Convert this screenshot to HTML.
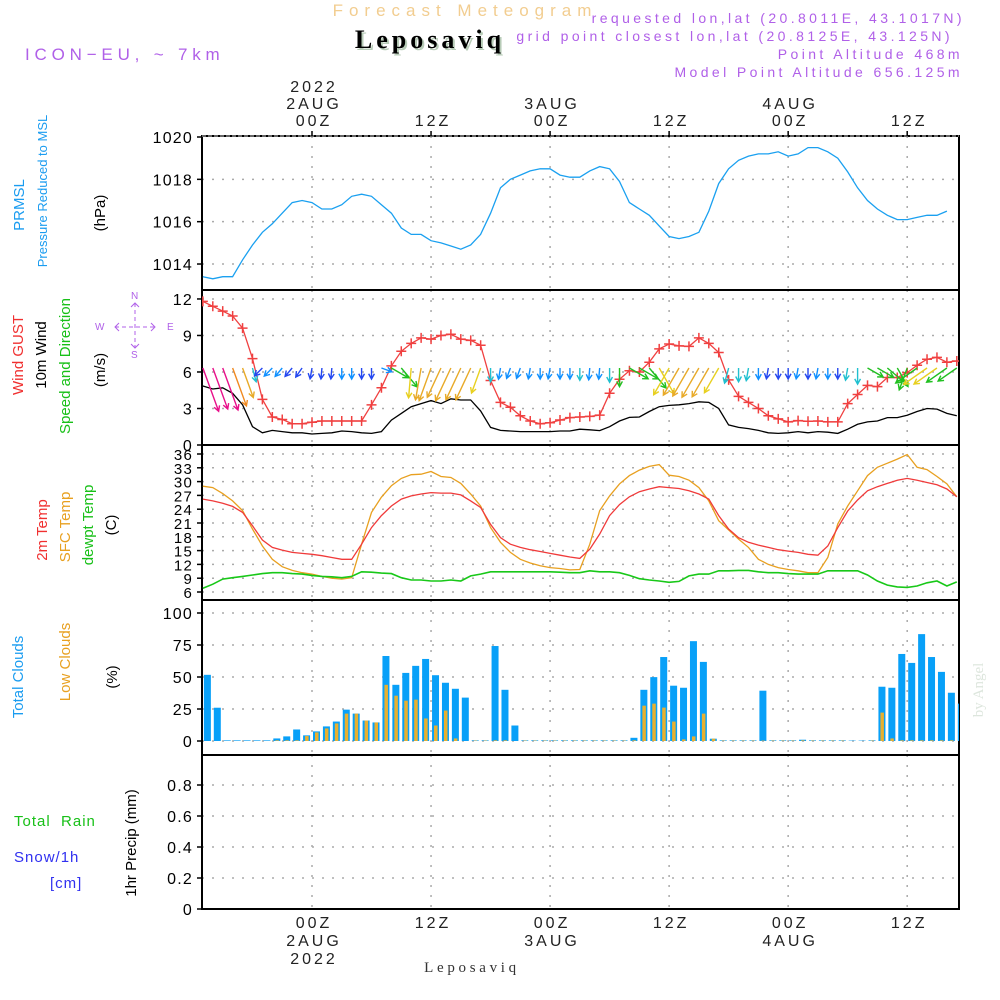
<!DOCTYPE html>
<html><head><meta charset="utf-8"><style>
html,body{margin:0;padding:0;background:#fff;}
svg{display:block;font-family:"Liberation Sans",sans-serif;}
</style></head><body>
<svg id="chart" width="1000" height="1000" viewBox="0 0 1000 1000" xmlns="http://www.w3.org/2000/svg">
<g>
<text x="465" y="16" text-anchor="middle" font-size="17" fill="#f2cd90" letter-spacing="6">Forecast Meteogram</text>
<text x="432" y="50" text-anchor="middle" font-size="26" font-weight="bold" font-family="Liberation Serif,serif" fill="#b8ccb8" letter-spacing="4">Leposaviq</text>
<text x="430" y="48" text-anchor="middle" font-size="26" font-weight="bold" font-family="Liberation Serif,serif" fill="#000" letter-spacing="4">Leposaviq</text>
<text x="25" y="60" font-size="17" fill="#b060e8" letter-spacing="4.8">ICON−EU, ~ 7km</text>
<text x="965" y="23" text-anchor="end" font-size="14" fill="#b060e8" letter-spacing="3.4">requested lon,lat (20.8011E, 43.1017N)</text>
<text x="953" y="41" text-anchor="end" font-size="14" fill="#b060e8" letter-spacing="3.4">grid point closest lon,lat (20.8125E, 43.125N)</text>
<text x="963" y="59" text-anchor="end" font-size="14" fill="#b060e8" letter-spacing="3.4">Point Altitude 468m</text>
<text x="963" y="77" text-anchor="end" font-size="14" fill="#b060e8" letter-spacing="3.4">Model Point Altitude 656.125m</text>
<text x="983" y="690" text-anchor="middle" font-size="15" font-family="Liberation Serif,serif" fill="#dde6dd" transform="rotate(-90 983 690)">by Angel</text>
<text x="472" y="972" text-anchor="middle" font-size="15" font-family="Liberation Serif,serif" fill="#333" letter-spacing="3.7">Leposaviq</text>
</g>
<g font-size="15">
<text transform="translate(24,205) rotate(-90)" text-anchor="middle" fill="#1a9cf0">PRMSL</text>
<text transform="translate(47,191) rotate(-90)" text-anchor="middle" fill="#1a9cf0" font-size="13">Pressure Reduced to MSL</text>
<text transform="translate(105,213) rotate(-90)" text-anchor="middle" fill="#000">(hPa)</text>
<text transform="translate(23,355) rotate(-90)" text-anchor="middle" fill="#f03030">Wind GUST</text>
<text transform="translate(46,355) rotate(-90)" text-anchor="middle" fill="#000">10m Wind</text>
<text transform="translate(70,366) rotate(-90)" text-anchor="middle" fill="#18c018">Speed and Direction</text>
<text transform="translate(105,370) rotate(-90)" text-anchor="middle" fill="#000">(m/s)</text>
<text transform="translate(47,530) rotate(-90)" text-anchor="middle" fill="#f03030">2m Temp</text>
<text transform="translate(70,527) rotate(-90)" text-anchor="middle" fill="#e8a020">SFC Temp</text>
<text transform="translate(93,525) rotate(-90)" text-anchor="middle" fill="#18c018">dewpt Temp</text>
<text transform="translate(116,525) rotate(-90)" text-anchor="middle" fill="#000">(C)</text>
<text transform="translate(23,677) rotate(-90)" text-anchor="middle" fill="#1a9cf0">Total Clouds</text>
<text transform="translate(70,662) rotate(-90)" text-anchor="middle" fill="#e8a020">Low Clouds</text>
<text transform="translate(117,677) rotate(-90)" text-anchor="middle" fill="#000">(%)</text>
<text x="14" y="826" fill="#18c018" letter-spacing="1">Total&#160;&#160;Rain</text>
<text x="14" y="862" fill="#3030f0" letter-spacing="1">Snow/1h</text>
<text x="50" y="888" fill="#3030f0" letter-spacing="1">[cm]</text>
<text transform="translate(136,843) rotate(-90)" text-anchor="middle" fill="#000">1hr Precip (mm)</text>
</g>
<g fill="none" stroke="#b060e8" font-size="10">
<text x="95" y="330" fill="#b060e8" stroke="none">W</text>
<text x="167" y="330" fill="#b060e8" stroke="none">E</text>
<text x="131" y="299" fill="#b060e8" stroke="none">N</text>
<text x="131" y="358" fill="#b060e8" stroke="none">S</text>
<line x1="115" y1="327" x2="155" y2="327" stroke-dasharray="4,3"/>
<line x1="135" y1="303" x2="135" y2="348" stroke-dasharray="4,3"/>
<path d="M119,323L115,327L119,331M151,323L155,327L151,331M131,307L135,303L139,307M131,344L135,348L139,344"/>
</g>
<g id="plots"></g>
</svg>
<script>
// ---------- data (hourly, hour 0 = 00Z 2AUG) ----------
const startHour = -11;
const pressure = [1013.4,1013.3,1013.4,1013.4,1014.2,1014.9,1015.5,1015.9,1016.4,1016.9,1017.0,1016.9,1016.6,1016.6,1016.8,1017.2,1017.3,1017.2,1016.8,1016.4,1015.7,1015.4,1015.4,1015.1,1015.0,1014.85,1014.7,1014.9,1015.4,1016.4,1017.6,1018.0,1018.2,1018.4,1018.5,1018.5,1018.2,1018.1,1018.1,1018.4,1018.6,1018.5,1017.9,1016.9,1016.6,1016.3,1015.8,1015.3,1015.2,1015.3,1015.5,1016.5,1017.8,1018.5,1018.9,1019.1,1019.2,1019.2,1019.3,1019.1,1019.2,1019.5,1019.5,1019.3,1019.0,1018.35,1017.6,1017.0,1016.6,1016.3,1016.1,1016.1,1016.2,1016.3,1016.3,1016.5];
const windGust = [11.8,11.4,11.0,10.6,9.6,7.1,3.75,2.3,2.1,1.75,1.75,1.87,1.97,1.97,1.97,1.97,1.97,3.3,4.7,6.5,7.7,8.35,8.8,8.7,9.0,9.1,8.7,8.6,8.2,5.3,3.5,3.1,2.4,1.97,1.75,1.83,2.05,2.25,2.3,2.35,2.45,4.25,5.4,6.1,6.0,6.8,7.9,8.3,8.15,8.1,8.8,8.35,7.6,5.35,4.0,3.5,3.0,2.4,2.15,1.9,2.0,1.95,1.97,1.9,1.9,3.4,4.15,4.9,4.8,5.55,5.55,5.95,6.55,7.05,7.2,6.8,6.9];
const wind10m = [4.85,4.6,4.7,4.25,3.3,1.5,1.0,1.2,1.1,1.0,1.0,0.9,0.95,1.0,1.15,1.1,1.0,0.95,1.1,2.05,2.6,3.15,3.4,3.65,3.4,3.8,3.7,3.7,2.8,1.45,1.2,1.15,1.1,1.1,1.1,1.1,1.15,1.15,1.3,1.25,1.18,1.5,1.97,2.27,2.3,2.75,3.15,3.25,3.3,3.4,3.55,3.5,3.0,1.65,1.45,1.35,1.2,1.0,0.95,1.0,1.1,1.0,1.1,1.05,0.95,1.3,1.7,1.9,1.97,2.25,2.25,2.45,2.75,3.0,2.95,2.6,2.4];
const windDir = [340,340,340,340,340,345,45,45,40,40,35,10,5,5,0,0,0,0,290,300,320,5,10,20,25,25,25,25,20,0,10,20,20,10,0,10,0,0,0,5,5,0,0,300,300,320,330,30,30,30,30,30,30,15,0,10,0,10,0,0,10,0,10,0,0,10,0,300,300,310,330,20,55,55,55,55,55];
const temp2m = [26.2,25.8,25.3,24.6,23.3,20.4,17.3,15.7,15.1,14.6,14.4,14.2,13.9,13.5,13.1,13.1,16.4,20.0,22.6,24.7,26.2,26.9,27.3,27.6,27.5,27.5,27.1,25.8,24.4,20.7,17.8,16.4,15.7,15.2,14.8,14.4,14.0,13.6,13.3,15.3,18.6,22.6,25.0,26.7,27.8,28.4,28.9,28.7,28.5,28.0,27.3,26.2,22.6,19.7,17.8,16.8,16.2,15.7,15.2,14.9,14.6,14.2,14.0,16.0,20.0,23.6,26.0,28.0,28.9,29.6,30.3,30.7,30.3,29.8,29.3,28.4,26.7];
const tempSfc = [29.0,28.7,27.4,25.8,23.7,19.7,16.0,13.1,11.5,10.7,10.2,9.9,9.4,9.0,8.8,9.1,16.4,23.3,26.6,29.1,30.7,31.5,31.6,32.2,31.1,30.9,29.6,27.3,24.7,20.0,16.8,14.6,13.1,12.3,11.7,11.3,11.1,10.8,10.9,16.4,23.7,26.9,29.5,31.3,32.5,33.3,33.7,31.4,31.1,30.3,28.7,25.8,21.5,19.5,17.5,15.7,13.1,12.0,11.3,10.9,10.6,10.2,10.2,13.5,20.8,24.7,28.0,31.3,33.1,34.0,34.9,35.9,33.1,32.6,31.1,29.5,26.7];
const dewpt = [6.8,7.7,8.8,9.1,9.4,9.7,10.0,10.2,10.2,10.0,9.9,9.6,9.4,9.3,9.1,9.4,10.4,10.3,10.1,10.0,9.1,8.6,8.6,8.4,8.4,8.6,8.4,9.5,9.9,10.4,10.4,10.4,10.4,10.4,10.4,10.4,10.3,10.2,10.2,10.6,10.4,10.4,10.2,9.6,8.9,8.6,8.4,8.1,8.3,9.5,9.9,9.9,10.6,10.6,10.7,10.7,10.4,10.2,10.2,10.0,9.9,9.9,9.9,10.6,10.6,10.6,10.6,9.7,8.4,7.5,7.1,7.0,7.3,8.0,8.4,7.3,8.2];
const cloudStartHour = -12;
const totalClouds = [50,51.7,26,0.5,0.5,0.5,0.5,0.5,2,3.6,9,4.4,7.5,11.4,15.2,24.5,21.4,16,14.5,66.4,43.9,53.2,58.7,64.1,51.4,45.5,40.8,33.9,0.5,0.5,74.2,40,12.1,0.5,0.5,0.5,0.5,0.5,0.5,0.5,0.5,0.5,0.5,0.5,2.5,40,49.9,65.6,43.2,41.6,78,61.8,1.8,0.5,0.5,0.5,0.5,39.3,0.5,0.5,0.5,1,0.5,0.5,0.5,0.5,0.3,0.3,0.5,42.4,41.6,68,61,83.5,65.6,54,37.7,29.2];
const lowClouds = [1,0,0,0,0,0,0,0,0.5,0.5,0.5,3.9,6.7,9.8,13.7,21.4,21.4,16,14.5,43.9,35.4,31.5,32.3,17.6,12.1,23.8,2,0,0.3,0.3,0.5,0.5,0,0.3,0.3,0.3,0.3,0.3,0.3,0.3,0.3,0.3,0.3,0.3,0.5,27.6,29.2,26.1,15.2,1.3,3.6,21.4,1.8,0.3,0.3,0.3,0.3,0.3,0.3,0.3,0.3,0.5,0.3,0.3,0.3,0.3,0,0,0.3,22.2,2,0.5,0.5,0.5,0.5,0.5,0.5,0.5];
const precip = [];
const pressTicks = [1014,1016,1018,1020];
const windTicks = [0,3,6,9,12];
const tempTicks = [6,9,12,15,18,21,24,27,30,33,36];
const cloudTicks = [0,25,50,75,100];
const precipTicks = [0,0.2,0.4,0.6,0.8];
const timeTickHours = [0,12,24,36,48,60];
const topTimeLabels = [["2022","2AUG","00Z"],["","","12Z"],["","3AUG","00Z"],["","","12Z"],["","4AUG","00Z"],["","","12Z"]];
const bottomTimeLabels = [["00Z","2AUG","2022"],["12Z","",""],["00Z","3AUG",""],["12Z","",""],["00Z","4AUG",""],["12Z","",""]];

// ---------- scales ----------
const X0 = 202, X1 = 959;
const xH = h => 312 + 9.92 * h;
const yP = p => 137 + (1020 - p) * 21.17;
const yW = v => 445 - v * 12.17;
const yT = t => 592 - (t - 6) * 4.6;
const yC = c => 741 - c * 1.28;
const yR = r => 909 - r * 155;
const panels = [
  {top:136,bot:290,scale:yP,ticks:pressTicks,name:'pressure'},
  {top:290,bot:445,scale:yW,ticks:windTicks,name:'wind'},
  {top:445,bot:600,scale:yT,ticks:tempTicks,name:'temperature'},
  {top:600,bot:755,scale:yC,ticks:cloudTicks,name:'clouds'},
  {top:755,bot:909,scale:yR,ticks:precipTicks,name:'precip'}
];
const NS = 'http://www.w3.org/2000/svg';
const root = document.getElementById('plots');
function mk(tag, attrs, parent){
  const e = document.createElementNS(NS, tag);
  for (const k in attrs) e.setAttribute(k, attrs[k]);
  (parent || root).appendChild(e);
  return e;
}
const defs = mk('defs', {});
const cp = mk('clipPath', {id:'clip'}, defs);
mk('rect', {x:X0, y:136, width:X1-X0, height:773}, cp);

panels.forEach(p => {
  const g = mk('g', {});
  
  
  p.ticks.forEach(t => {
    const y = p.scale(t);
    if (y > p.top + 3 && y < p.bot - 3) {
      const gl = mk('line', {x1:X0, x2:X1, y1:y, y2:y, stroke:'#aaa', 'stroke-width':1.5, 'stroke-dasharray':'2,8'}, g);
      
      
    }
    mk('line', {x1:X0-5, x2:X0, y1:y, y2:y, stroke:'#000', 'stroke-width':1.5}, g);
    const lbl = mk('text', {x:X0-9, y:y+6, 'text-anchor':'end', 'font-size': p.name==='temperature'?15:16, fill:'#000', 'letter-spacing':1.2}, g);
    lbl.textContent = String(t);
    
    
  });
  timeTickHours.forEach(h => {
    const vl = mk('line', {x1:xH(h), x2:xH(h), y1:p.top, y2:p.bot, stroke:'#aaa', 'stroke-width':1.5, 'stroke-dasharray':'2,8'}, g);
    
    
  });
  const fr = mk('rect', {x:X0, y:p.top, width:X1-X0, height:p.bot-p.top, fill:'none', stroke:'#000', 'stroke-width':2}, g);
  
  
});
mk('line', {x1:X0, x2:X1, y1:136, y2:136, stroke:'#666', 'stroke-width':2, 'stroke-dasharray':'4,2'});

timeTickHours.forEach((h, i) => {
  const x = xH(h) + 2;
  mk('line', {x1:xH(h), x2:xH(h), y1:131, y2:136, stroke:'#000', 'stroke-width':1.5});
  topTimeLabels[i].forEach((s, j) => {
    if (!s) return;
    const t = mk('text', {x:x, y:92 + j*17, 'text-anchor':'middle', 'font-size':16, fill:'#222', 'letter-spacing':3});
    t.textContent = s;
    
    
  });
  bottomTimeLabels[i].forEach((s, j) => {
    if (!s) return;
    const t = mk('text', {x:x, y:928 + j*18, 'text-anchor':'middle', 'font-size':16, fill:'#222', 'letter-spacing':3});
    t.textContent = s;
    
    
  });
});

const series = mk('g', {'clip-path':'url(#clip)'});
function line(data, start, yf, color, name, w){
  const pts = data.map((v, i) => xH(start + i).toFixed(1) + ',' + yf(v).toFixed(1)).join(' ');
  const l = mk('polyline', {points:pts, fill:'none', stroke:color, 'stroke-width':w||1.3}, series);
  
  
}
line(pressure, startHour, yP, '#1aa0f0', 'pressure-line');
const cg = mk('g', {}, series);


totalClouds.forEach((v, i) => {
  const x = xH(cloudStartHour + i) + 4.5;
  const b = mk('rect', {x:x-3.5, y:yC(v), width:7, height:yC(0)-yC(v), fill:'#08a0f8'}, cg);
  
  
  const lv = lowClouds[i];
  const lb = mk('rect', {x:x-1.5, y:yC(lv), width:3.5, height:yC(0)-yC(lv), fill:'#e8b030'}, cg);
  
  
});
line(tempSfc, startHour, yT, '#e8a020', 'sfc-temp-line');
line(temp2m, startHour, yT, '#f03a3a', 'temp-2m-line');
line(dewpt, startHour, yT, '#18c818', 'dewpt-line', 1.6);
line(wind10m, startHour, yW, '#000', 'wind-10m-line');
line(windGust, startHour, yW, '#f04040', 'wind-gust-line');
const gg = mk('g', {}, series);


windGust.forEach((v, i) => {
  const x = xH(startHour + i), y = yW(v);
  const m = mk('path', {d:`M${x-5},${y}H${x+5}M${x},${y-5}V${y+5}`, stroke:'#f04040', 'stroke-width':1.5}, gg);
  
  
});
function windColor(s){
  if (s >= 4.4) return '#e8108a';
  if (s >= 3.9) return '#f08a20';
  if (s >= 3.3) return '#e8aa28';
  if (s >= 2.8) return '#e8d020';
  if (s >= 1.8) return '#20c020';
  if (s >= 1.3) return '#20c0d0';
  if (s >= 1.05) return '#1090ff';
  return '#2448f0';
}
const ag = mk('g', {}, series);


windDir.forEach((d, i) => {
  const s = wind10m[i];
  const len = Math.max(11, s * 9.5);
  const rad = d * Math.PI / 180;
  const dx = -Math.sin(rad), dy = Math.cos(rad);
  const x0 = xH(startHour + i), y0 = 368;
  const x1 = x0 + dx*len, y1 = y0 + dy*len;
  const a = Math.atan2(dy, dx), hl = 6;
  const h1x = x1 - hl*Math.cos(a - 0.5), h1y = y1 - hl*Math.sin(a - 0.5);
  const h2x = x1 - hl*Math.cos(a + 0.5), h2y = y1 - hl*Math.sin(a + 0.5);
  const p = mk('path', {d:`M${x0},${y0}L${x1},${y1}M${h1x},${h1y}L${x1},${y1}L${h2x},${h2y}`, fill:'none', stroke:windColor(s), 'stroke-width':1.4}, ag);
  
  
});
precip.forEach((v, i) => {
  const x = xH(startHour + i);
  const b = mk('rect', {x:x-3, y:yR(v), width:6, height:yR(0)-yR(v), fill:'#18c018'}, series);
  
  
});
</script>
</body></html>
